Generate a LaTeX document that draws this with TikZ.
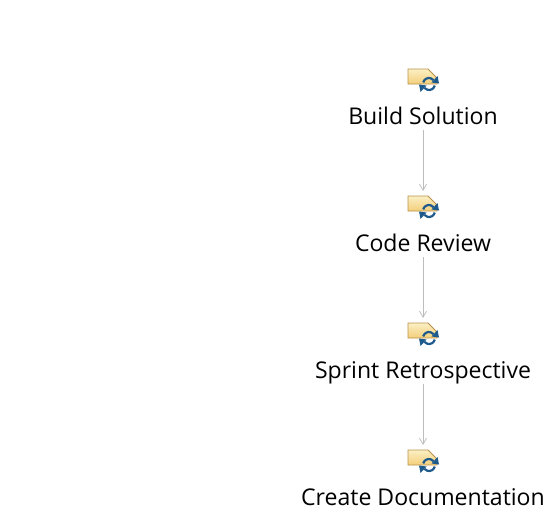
\documentclass[tikz,border=0pt]{standalone}
\usepackage{fontspec}
\setmainfont{Open Sans}
\usetikzlibrary{arrows.meta}
\definecolor{folderedge}{HTML}{B8924A}
\definecolor{foldertop}{HTML}{FBEFC4}
\definecolor{folderlow}{HTML}{F3CF7A}
\definecolor{cyc}{HTML}{1F5A8C}
\definecolor{conn}{HTML}{BDBDBD}
\tikzset{
  x=1pt,y=-1pt,
  tasklabel/.style={font=\fontsize{23.05}{26}\selectfont,text=black,inner sep=0pt,anchor=base},
  taskicon/.style={inner sep=0pt,minimum width=31pt,minimum height=23pt,anchor=center},
  flowline/.style={draw=conn,line width=1pt,-{Straight Barb[length=6pt,width=7pt,line width=0.8pt]}},
  pics/cycleicon/.style={code={
    \path[draw=folderedge,line width=0.9pt,top color=foldertop,bottom color=folderlow]
      (-15,-11) -- (5,-11) -- (14,-2) -- (14,4) -- (-15,4) -- cycle;
    \draw[cyc,line width=2.2pt] (6,4) ++(-165:6) arc[start angle=-165,end angle=-40,radius=6];
    \draw[cyc,line width=2.2pt] (6,4) ++(15:6) arc[start angle=15,end angle=140,radius=6];
    \fill[cyc] (8.5,2.5) -- (16,3.5) -- (14.5,-4) -- cycle;
    \fill[cyc] (3.5,5.5) -- (-4,4.5) -- (-2.5,12) -- cycle;
  }}
}
\begin{document}
\begin{tikzpicture}
\useasboundingbox (0,0) rectangle (545,512);
\node[taskicon] (i1) at (423,80) {};
\node[taskicon] (i2) at (423,207) {};
\node[taskicon] (i3) at (423,334) {};
\node[taskicon] (i4) at (423,461) {};
\foreach \n in {i1,i2,i3,i4} \pic at (\n) {cycleicon};
\node[tasklabel] (t1) at (423,124) {Build Solution};
\node[tasklabel] (t2) at (423,251) {Code Review};
\node[tasklabel] (t3) at (423,378) {Sprint Retrospective};
\node[tasklabel] (t4) at (423,505) {Create Documentation};
\coordinate (a1) at (423,130); \coordinate (b1) at (423,191);
\coordinate (a2) at (423,257); \coordinate (b2) at (423,318);
\coordinate (a3) at (423,384); \coordinate (b3) at (423,445);
\draw[flowline] (a1) -- (b1);
\draw[flowline] (a2) -- (b2);
\draw[flowline] (a3) -- (b3);
\end{tikzpicture}
\end{document}
